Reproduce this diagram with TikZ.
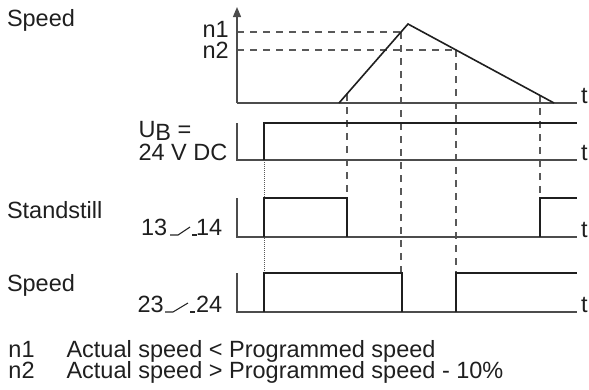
\documentclass[tikz,border=0pt]{standalone}
\usepackage{fontspec}
\setmainfont{Liberation Sans}
\usetikzlibrary{arrows.meta}
\begin{document}
\begin{tikzpicture}[x=1pt,y=-1pt,
  txt/.style={inner sep=0pt,outer sep=0pt,font=\fontsize{23.5}{24}\selectfont,text=black!88},
  baseln/.style={line width=1.2pt,draw=black!70},
  sig/.style={line width=1.6pt,draw=black!88,line join=miter},
  dsh/.style={line width=1.1pt,draw=black!65,dash pattern=on 6.5pt off 6.5pt},
  dotln/.style={line width=1pt,draw=black!65,dash pattern=on 1pt off 1pt},
  swl/.style={line width=1.1pt,draw=black!85}]
\useasboundingbox (0,0) rectangle (589,389);

% dashed guides
\draw[dsh] (237,32) -- (401,32);
\draw[dsh] (237,50) -- (457,50);
\draw[dsh] (401,32) -- (401,273);
\draw[dsh] (456,50) -- (456,273);
\draw[dsh] (347,94) -- (347,198);
\draw[dsh] (540,95) -- (540,198);
\draw[dotln] (264,160) -- (264,273);

% speed graph
\draw[baseln,-{Triangle[length=10pt,width=8pt]}] (237,103) -- (237,7);
\draw[baseln] (237,103) -- (577,103);
\draw[sig] (339,103) -- (408,24) -- (554,103);

% U_B
\draw[baseln] (237,123) -- (237,160) -- (577,160);
\draw[sig] (264,160) -- (264,123) -- (577,123);

% Standstill 13-14
\draw[baseln] (237,198) -- (237,237) -- (577,237);
\draw[sig] (264,237) -- (264,198) -- (347,198) -- (347,237);
\draw[sig] (540,237) -- (540,198) -- (577,198);

% Speed 23-24
\draw[baseln] (237,273) -- (237,312) -- (577,312);
\draw[sig] (264,312) -- (264,273) -- (402,273) -- (402,312);
\draw[sig] (456,312) -- (456,273) -- (577,273);

% labels
\node[txt,anchor=base west] (speedA) at (7,26.5) {Speed};
\node[txt,anchor=base west] (n1lab) at (202.5,37) {n1};
\node[txt,anchor=base west] (n2lab) at (202.5,58) {n2};
\node[txt,anchor=base west] (t1) at (581,103) {t};
\node[txt,anchor=base west] (ub) at (138.5,137) {U\raisebox{-3.5pt}{B} =};
\node[txt,anchor=base west] (dc) at (138.5,160) {24 V DC};
\node[txt,anchor=base west] (t2) at (581,160) {t};
\node[txt,anchor=base west] (stand) at (7,218.5) {Standstill};
\node[txt,anchor=base west] (c13) at (141,235) {13};
\node[txt,anchor=base west] (c14) at (196,235) {14};
\node[txt,anchor=base west] (t3) at (581,237) {t};
\node[txt,anchor=base west] (speedB) at (7,291) {Speed};
\node[txt,anchor=base west] (c23) at (137.5,312) {23};
\node[txt,anchor=base west] (c24) at (196,312) {24};
\node[txt,anchor=base west] (t4) at (581,312) {t};

% contact symbols
\draw[swl] (170,235) -- (178,235) -- (190,227);
\draw[swl] (192,235) -- (197,235);
\draw[swl] (165,312) -- (173,312) -- (188,303);
\draw[swl] (190,312) -- (195,312);

% legend
\node[txt,anchor=base west] (l1a) at (8.5,357) {n1};
\node[txt,anchor=base west] (l1b) at (66.5,357) {Actual speed < Programmed speed};
\node[txt,anchor=base west] (l2a) at (8.5,378.5) {n2};
\node[txt,anchor=base west] (l2b) at (66.5,378.5) {Actual speed > Programmed speed - 10\%};
\end{tikzpicture}
\end{document}
